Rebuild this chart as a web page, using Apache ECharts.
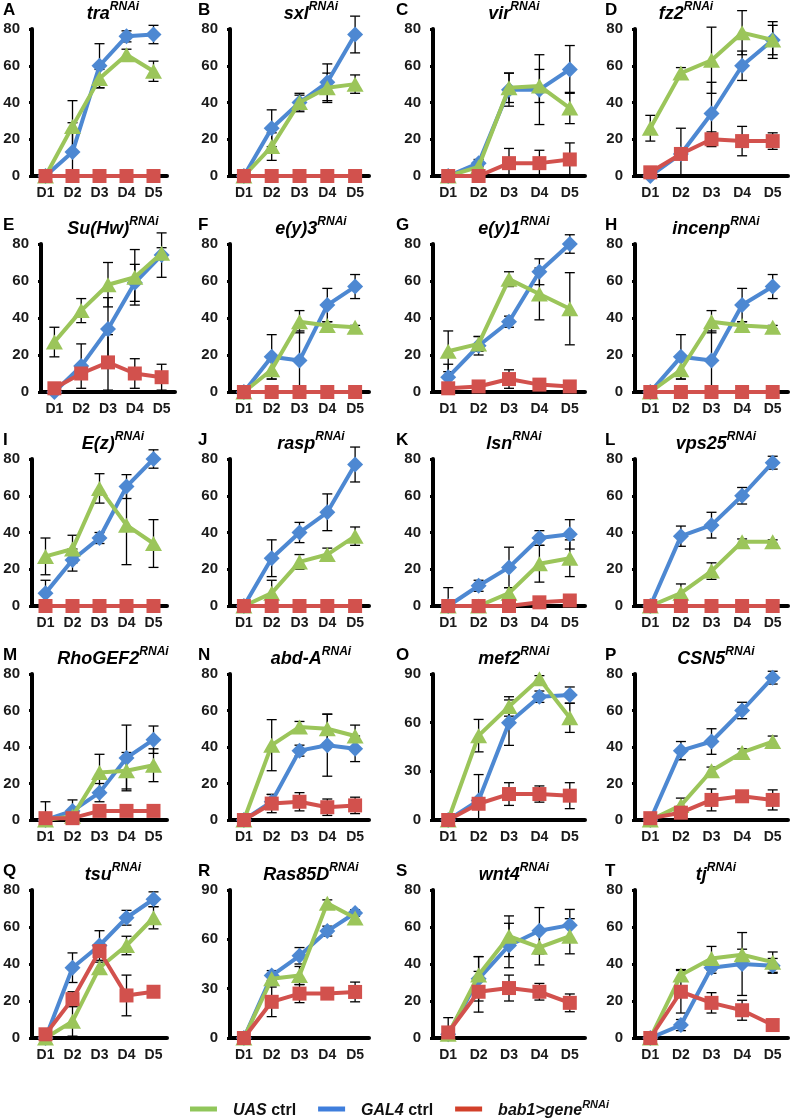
<!DOCTYPE html>
<html><head><meta charset="utf-8">
<script src="https://cdn.jsdelivr.net/npm/echarts@6/dist/echarts.min.js"></script>
<style>html,body{margin:0;padding:0;background:#fff}#c{width:799px;height:1118px}</style>
</head><body><div id="c"></div>
<script>
// ---------- DATA ----------
const days = ['D1', 'D2', 'D3', 'D4', 'D5'];
const panelLetters = ['A','B','C','D','E','F','G','H','I','J','K','L','M','N','O','P','Q','R','S','T'];
const genes = ['tra','sxl','vir','fz2','Su(Hw)','e(y)3','e(y)1','incenp','E(z)','rasp','lsn','vps25','RhoGEF2','abd-A','mef2','CSN5','tsu','Ras85D','wnt4','tj'];
const yMax  = [80,80,80,80,80,80,80,80,80,80,80,80,80,80,90,80,80,90,80,80];
const yStep = [20,20,20,20,20,20,20,20,20,20,20,20,20,20,30,20,20,30,20,20];
const legendNames = ['UAS ctrl', 'GAL4 ctrl', 'bab1>gene'];

// UAS ctrl (green) means and error bars
const uasMean = [
  [0,27,53,66,57],[0,16,40,48,50],[0,5,48,49,37],[26,56,63,78,74],
  [27,44,58,62,75],[0,12,38,36,35],[22,26,61,53,45],[0,12,38,36,35],
  [27,31,64,44,34],[0,7,24,28,38],[0,0,7,23,26],[0,7,19,35,35],
  [0,2,26,27,30],[0,41,51,50,46],[0,52,70,87,63],[0,8,27,37,43],
  [0,9,38,50,65],[0,36,38,82,73],[2,34,55,49,55],[0,34,43,45,41]
];
const uasErr = [
  [0,14,5,3,5.5],[0,7.5,4,8,5],[0,2,8,9,8.5],[7,3,18,12,10],
  [8,6.5,12,15,3],[0,5,6,2,1],[11,4,4,14,19.5],[0,5,6,2,1],
  [10,7.5,8,21.5,13],[0,7,4,3.5,5],[10,0,3,10,10],[0,5,4.5,1.5,1],
  [10,1,10,10,9],[0,14,3,8,6],[0,10,6,2,9],[0,4,2,2,3],
  [0,8,3,5,6],[0,3,5.5,2,3],[9,10,11,9.5,9.5],[0,3,6.5,3,5.5]
];
// GAL4 ctrl (blue)
const gal4Mean = [
  [0,13,60,76,77],[0,26,40,51,77],[0,7,47,47,58],[0,12,34,60,74],
  [0,14,34,59,74],[0,19,17,47,57],[8,25,38,65,80],[0,19,17,47,57],
  [7,25,37,65,80],[0,26,40,51,77],[0,11,21,37,39],[0,38,44,60,78],
  [0,5,15,34,44],[0,10,38,41,39],[0,12,60,76,77],[0,38,43,60,78],
  [0,38,50,65,75],[0,38,50,65,76],[2,32,50,58,61],[0,7,38,40,39]
];
const gal4Err = [
  [0,16,12,3,5],[0,10,5,10,10],[0,2,9,19,13],[0,14,17,8,8],
  [0,12,17,10,12],[0,12,16,9,6.5],[7,5,3,7,5],[0,12,16,9,6.5],
  [7,6,3,6.5,5],[0,10,5.5,10,9.5],[0,3,11,4,8],[0,5.5,7,4.5,3.5],
  [0,6,5,18,7.5],[0,4,3,17,7],[0,16,14,3.5,5],[0,5,7,4.5,3.5],
  [0,8,8,4,4],[0,3,5,3,2],[0,12,12,12.5,8.5],[0,3,3,17,4]
];
// bab1>gene RNAi (red)
const rnaiMean = [
  [0,0,0,0,0],[0,0,0,0,0],[0,0,7,7,9],[2,12,20,19,19],
  [2,10,16,10,8],[0,0,0,0,0],[2,3,7,4,3],[0,0,0,0,0],
  [0,0,0,0,0],[0,0,0,0,0],[0,0,0,2,3],[0,0,0,0,0],
  [1,1,5,5,5],[0,9,10,7,8],[0,10,16,16,15],[1,4,11,13,11],
  [2,21,47,23,25],[0,22,27,27,28],[3,25,27,25,19],[0,25,19,15,7]
];
const rnaiErr = [
  [0,0,0,0,0],[0,0,0,0,0],[0,0,8,7,9],[0,0,4,8,4.5],
  [0,0,15,8,7],[0,0,0,0,0],[0,0,5,0,0],[0,0,0,0,0],
  [0,0,0,0,0],[0,0,0,0,0],[0,0,0,0,0],[0,0,0,0,0],
  [0,0,0,0,0],[0,5,5,4.5,4.5],[0,0,7,5,8],[0,0,6,0,5.5],
  [0,4,0,11,0],[0,9,5.5,0,6],[0,11,7,4.5,4.8],[0,11.5,5.5,5.4,0]
];

// ---------- LAYOUT / STYLE ----------
const colLeft = [32, 230, 433, 635];
const colRight = [167, 369, 585, 788];
const rowTop = [29, 244, 459, 674, 890];
const rowZero = [176, 392, 606, 820, 1038];
const titleCx = [113, 311, 514, 716];
const letterX = [3, 198, 396, 605];
const GREEN = '#9BC55A', BLUE = '#4D88D2', RED = '#D2514D';
const yFont = {fontFamily: 'Liberation Sans', fontWeight: 'bold', fontSize: 15, color: '#1a1a1a'};
const xFont = {fontFamily: 'Liberation Sans', fontWeight: 'bold', fontSize: 14, color: '#1a1a1a'};

function renderErr(params, api) {
  const x = api.value(0), m = api.value(1), e = api.value(2);
  if (!e) return null;
  const hi = api.coord([x, m + e]);
  let loV = m - e, loCap = true;
  if (loV < 0) { loV = 0; loCap = false; }
  const lo = api.coord([x, loV]);
  const w = 5, st = {stroke: '#000', lineWidth: 1.3};
  const ch = [
    {type: 'line', shape: {x1: hi[0], y1: hi[1], x2: lo[0], y2: lo[1]}, style: st},
    {type: 'line', shape: {x1: hi[0] - w, y1: hi[1], x2: hi[0] + w, y2: hi[1]}, style: st}
  ];
  if (loCap) ch.push({type: 'line', shape: {x1: lo[0] - w, y1: lo[1], x2: lo[0] + w, y2: lo[1]}, style: st});
  return {type: 'group', children: ch};
}

const grids = [], xAxes = [], yAxes = [], series = [], graphics = [];
const groups = [
  {name: legendNames[1], mean: gal4Mean, err: gal4Err, color: BLUE, symbol: 'diamond', size: 16},
  {name: legendNames[0], mean: uasMean, err: uasErr, color: GREEN, symbol: 'triangle', size: [17, 15]},
  {name: legendNames[2], mean: rnaiMean, err: rnaiErr, color: RED, symbol: 'rect', size: 14}
];

for (let p = 0; p < 20; p++) {
  const r = Math.floor(p / 4), c = p % 4;
  let left = colLeft[c], right = colRight[c];
  if (p === 4) { left += 9; right += 8; }
  grids.push({left: left, top: rowTop[r], width: right - left, height: rowZero[r] - rowTop[r]});
  xAxes.push({
    type: 'category', gridIndex: p, data: days, boundaryGap: true,
    axisLine: {show: true, lineStyle: {color: '#000', width: 4}},
    axisTick: {show: false},
    axisLabel: Object.assign({margin: 10}, xFont)
  });
  yAxes.push({
    type: 'value', gridIndex: p, min: 0, max: yMax[p], interval: yStep[p],
    axisLine: {show: true, lineStyle: {color: '#000', width: 4}},
    axisTick: {show: true, length: 3, lineStyle: {color: '#000', width: 3}},
    splitLine: {show: false},
    axisLabel: Object.assign({margin: 12}, yFont)
  });
  // error bars (under lines)
  groups.forEach(function (g) {
    series.push({
      type: 'custom', name: 'err', xAxisIndex: p, yAxisIndex: p, z: 1,
      renderItem: renderErr, encode: {x: 0, y: 1},
      data: g.mean[p].map(function (v, i) { return [i, v, g.err[p][i]]; }),
      silent: true, animation: false
    });
  });
  groups.forEach(function (g, k) {
    series.push({
      type: 'line', name: g.name, xAxisIndex: p, yAxisIndex: p, z: 3 + k,
      data: g.mean[p], symbol: g.symbol, symbolSize: g.size, showSymbol: true,
      lineStyle: {color: g.color, width: 4}, itemStyle: {color: g.color},
      animation: false, emphasis: {disabled: true}
    });
  });
  // title
  graphics.push({
    type: 'text', x: titleCx[c] + (p === 3 ? -30 : 0), y: rowTop[r] - 28,
    style: {
      text: '{g|' + genes[p] + '}{s|RNAi}', align: 'center', verticalAlign: 'top',
      rich: {
        g: {fontFamily: 'Liberation Sans', fontWeight: 'bold', fontStyle: 'italic', fontSize: 18, lineHeight: 22, verticalAlign: 'bottom', fill: '#000'},
        s: {fontFamily: 'Liberation Sans', fontWeight: 'bold', fontStyle: 'italic', fontSize: 12, lineHeight: 14, verticalAlign: 'top', fill: '#000'}
      }
    }
  });
  graphics.push({
    type: 'text', x: letterX[c], y: rowTop[r] - 27,
    style: {text: panelLetters[p], fontFamily: 'Liberation Sans', fontWeight: 'bold', fontSize: 17, fill: '#000', align: 'left', verticalAlign: 'top'}
  });
}

const legendRich = {
  sp: {width: 11},
  i: {fontFamily: 'Liberation Sans', fontWeight: 'bold', fontStyle: 'italic', fontSize: 16, color: '#111', verticalAlign: 'bottom', lineHeight: 20},
  n: {fontFamily: 'Liberation Sans', fontWeight: 'bold', fontSize: 16, color: '#111', verticalAlign: 'bottom', lineHeight: 20},
  sup: {fontFamily: 'Liberation Sans', fontWeight: 'bold', fontStyle: 'italic', fontSize: 11, color: '#111', verticalAlign: 'top', lineHeight: 14}
};

const option = {
  backgroundColor: '#fff',
  animation: false,
  grid: grids, xAxis: xAxes, yAxis: yAxes, series: series,
  graphic: graphics,
  legend: {
    data: [
      {name: legendNames[0], itemStyle: {color: '#90C65A'}},
      {name: legendNames[1], itemStyle: {color: '#3F7EDC'}},
      {name: legendNames[2], itemStyle: {color: '#D2402A'}}
    ],
    left: 'center', top: 1094, icon: 'rect', itemWidth: 27, itemHeight: 5, itemGap: 22,
    selectedMode: false,
    textStyle: {rich: legendRich},
    formatter: function (name) {
      if (name === legendNames[0]) return '{sp|}{i|UAS}{n| ctrl}';
      if (name === legendNames[1]) return '{sp|}{i|GAL4}{n| ctrl}';
      return '{sp|}{i|bab1>gene}{sup|RNAi}';
    }
  }
};
const chart = echarts.init(document.getElementById('c'));
chart.setOption(option);
</script>
</body></html>
